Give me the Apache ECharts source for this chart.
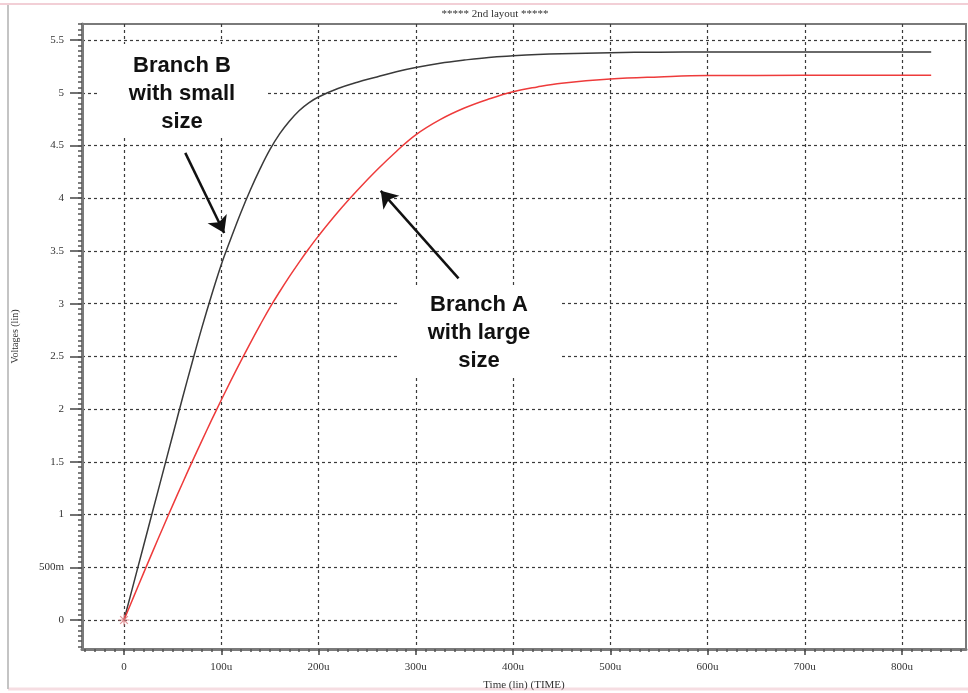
<!DOCTYPE html>
<html>
<head>
<meta charset="utf-8">
<title>2nd layout</title>
<script src="https://cdn.jsdelivr.net/npm/echarts@6/dist/echarts.min.js"></script>
<style>
  html, body { margin: 0; padding: 0; background: #fff; }
  #chart { width: 968px; height: 693px; }
</style>
</head>
<body>
<div id="chart"></div>
<script>
// time in u (micro seconds)
const timeUs = [0, 10, 20, 30, 40, 50, 60, 70, 80, 90, 100, 110, 120, 130, 140, 150, 160, 170, 180, 190,
  200, 220, 240, 260, 280, 300, 325, 350, 375, 400, 425, 450, 500, 550, 600, 700, 830]
// Branch B - small size (black)
const branchB = [0, 0.35, 0.70, 1.05, 1.40, 1.75, 2.10, 2.44, 2.77, 3.08, 3.37, 3.62, 3.86, 4.08, 4.28, 4.46, 4.61, 4.73, 4.83, 4.905,
  4.96, 5.04, 5.10, 5.15, 5.20, 5.24, 5.28, 5.31, 5.335, 5.35, 5.362, 5.37, 5.38, 5.385, 5.386, 5.386, 5.386]
// Branch A - large size (red)
const branchA = [0, 0.222, 0.442, 0.660, 0.875, 1.087, 1.295, 1.499, 1.699, 1.895, 2.086, 2.272, 2.453, 2.629, 2.799, 2.963, 3.113, 3.256, 3.392, 3.521,
  3.643, 3.869, 4.075, 4.267, 4.443, 4.601, 4.745, 4.855, 4.94, 5.01, 5.055, 5.09, 5.13, 5.15, 5.163, 5.165, 5.165]

const xTickValues = [0, 100, 200, 300, 400, 500, 600, 700, 800]
const xTickLabels = ['0', '100u', '200u', '300u', '400u', '500u', '600u', '700u', '800u']
const yTickValues = [0, 0.5, 1, 1.5, 2, 2.5, 3, 3.5, 4, 4.5, 5, 5.5]
const yTickLabels = ['0', '500m', '1', '1.5', '2', '2.5', '3', '3.5', '4', '4.5', '5', '5.5']

// arrows, [from, to] in data coords
const arrowB = [[63, 4.43], [103, 3.67]]
const arrowA = [[344, 3.24], [264, 4.07]]

const xMin = -43.2, xMax = 865.8
const yMin = -0.275, yMax = 5.652

// minor tick positions
const xMinor = []
for (let v = -40; v <= 860; v += 10) xMinor.push(v)
const yMinor = []
for (let k = -5; k <= 113; k++) yMinor.push(+(k * 0.05).toFixed(2))

const serif = '"Liberation Serif", "DejaVu Serif", serif'
const gridDash = { color: '#3a3a3a', width: 1.2, type: [3, 3] }

const chart = echarts.init(document.getElementById('chart'))

const option = {
  animation: false,
  backgroundColor: '#fff',
  grid: {
    left: 82, right: 2, top: 24, bottom: 44,
    outerBoundsMode: 'none',
    containLabel: false,
    show: true, borderColor: '#7a7a7a', borderWidth: 2
  },
  xAxis: [
    {
      type: 'value',
      min: xMin, max: xMax,
      splitNumber: 9,
      name: 'Time (lin) (TIME)',
      nameLocation: 'middle',
      nameGap: 31,
      nameTextStyle: { fontFamily: serif, fontSize: 11, color: '#333' },
      axisLine: { show: true, onZero: false, lineStyle: { color: '#7a7a7a', width: 3 } },
      axisTick: { show: true, customValues: xTickValues, length: 6, lineStyle: { color: '#444', width: 1.5 } },
      axisLabel: {
        customValues: xTickValues,
        margin: 13,
        fontFamily: serif, fontSize: 11, color: '#333',
        formatter: (v) => xTickLabels[xTickValues.indexOf(v)] ?? ''
      },
      splitLine: { show: true, lineStyle: gridDash }
    },
    {
      type: 'value',
      min: xMin, max: xMax,
      position: 'bottom',
      axisLine: { show: false, onZero: false },
      axisTick: { show: true, customValues: xMinor, length: 3, lineStyle: { color: '#555', width: 1.5 } },
      axisLabel: { show: false },
      splitLine: { show: false }
    }
  ],
  yAxis: [
    {
      type: 'value',
      min: yMin, max: yMax,
      splitNumber: 12,
      name: 'Voltages (lin)',
      nameLocation: 'middle',
      nameGap: 62,
      nameTextStyle: { fontFamily: serif, fontSize: 10, color: '#333' },
      axisLine: { show: true, onZero: false, lineStyle: { color: '#7a7a7a', width: 3 } },
      axisTick: { show: true, customValues: yTickValues, length: 12, lineStyle: { color: '#444', width: 1.5 } },
      axisLabel: {
        customValues: yTickValues,
        margin: 18,
        fontFamily: serif, fontSize: 11, color: '#333',
        formatter: (v) => yTickLabels[yTickValues.indexOf(v)] ?? ''
      },
      splitLine: { show: true, lineStyle: gridDash }
    },
    {
      type: 'value',
      min: yMin, max: yMax,
      position: 'left',
      axisLine: { show: false, onZero: false },
      axisTick: { show: true, customValues: yMinor, length: 4, lineStyle: { color: '#555', width: 1.5 } },
      axisLabel: { show: false },
      splitLine: { show: false }
    }
  ],
  series: [
    {
      name: 'Branch B',
      type: 'line',
      data: timeUs.map((t, i) => [t, branchB[i]]),
      showSymbol: false,
      smooth: 0.4,
      lineStyle: { color: '#3a3a3a', width: 1.5 },
      z: 3,
      markLine: {
        silent: true,
        symbol: ['none', 'arrow'],
        symbolSize: 16,
        label: { show: false },
        lineStyle: { color: '#111', width: 2.5, type: 'solid' },
        data: [[{ coord: arrowB[0] }, { coord: arrowB[1] }]]
      }
    },
    {
      name: 'Branch A',
      type: 'line',
      data: timeUs.map((t, i) => [t, branchA[i]]),
      showSymbol: false,
      smooth: 0.4,
      lineStyle: { color: '#ee3b3b', width: 1.5 },
      z: 3,
      markLine: {
        silent: true,
        symbol: ['none', 'arrow'],
        symbolSize: 16,
        label: { show: false },
        lineStyle: { color: '#111', width: 2.5, type: 'solid' },
        data: [[{ coord: arrowA[0] }, { coord: arrowA[1] }]]
      }
    },
    {
      name: 'origin',
      type: 'scatter',
      data: [[0, 0]],
      symbol: 'path://M0,5L10,5M5,0L5,10M1.5,1.5L8.5,8.5M8.5,1.5L1.5,8.5',
      symbolSize: 11,
      itemStyle: { color: 'transparent', borderColor: '#d9777a', borderWidth: 1.2 },
      z: 4
    }
  ],
  graphic: [
    // outer frame bits
    { type: 'line', shape: { x1: 0, y1: 4, x2: 968, y2: 4 }, style: { stroke: '#f2cfd6', lineWidth: 2 } },
    { type: 'line', shape: { x1: 8, y1: 689, x2: 968, y2: 689 }, style: { stroke: '#f6dde2', lineWidth: 3 } },
    { type: 'line', shape: { x1: 8, y1: 5, x2: 8, y2: 689 }, style: { stroke: '#c4c4c4', lineWidth: 2 } },
    {
      type: 'text', x: 495, y: 14, z: 10,
      style: { text: '***** 2nd layout *****', font: '11px ' + serif, fill: '#333', align: 'center', verticalAlign: 'middle' }
    },
    // annotation boxes
    { type: 'rect', z: 10, shape: { x: 98, y: 44, width: 167, height: 93 }, style: { fill: '#fff' } },
    {
      type: 'text', x: 182, y: 94, z: 11,
      style: {
        text: 'Branch B\nwith small\nsize', font: 'bold 22px "Liberation Sans", Arial, sans-serif',
        fill: '#111', align: 'center', verticalAlign: 'middle', lineHeight: 28
      }
    },
    { type: 'rect', z: 10, shape: { x: 397, y: 288, width: 163, height: 90 }, style: { fill: '#fff' } },
    {
      type: 'text', x: 479, y: 333, z: 11,
      style: {
        text: 'Branch A\nwith large\nsize', font: 'bold 22px "Liberation Sans", Arial, sans-serif',
        fill: '#111', align: 'center', verticalAlign: 'middle', lineHeight: 28
      }
    }
  ]
}

chart.setOption(option)
</script>
</body>
</html>
